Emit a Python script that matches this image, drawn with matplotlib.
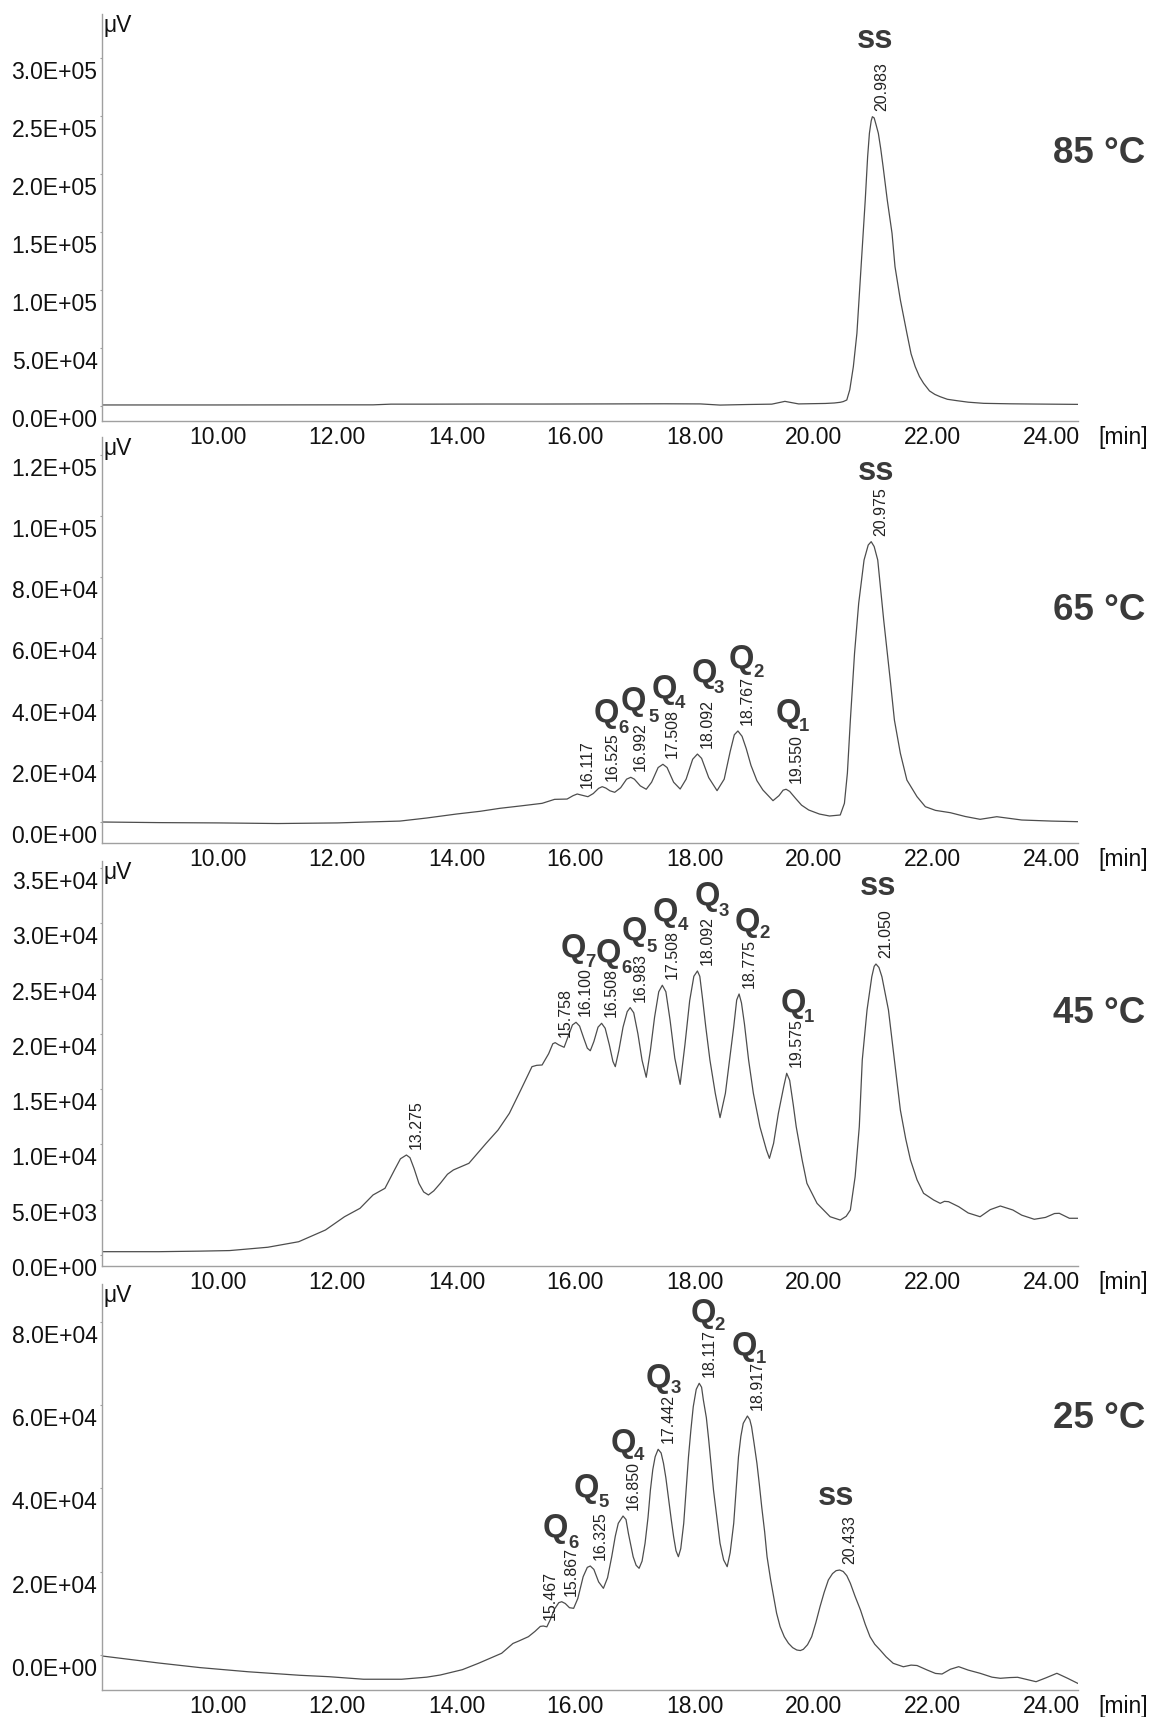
import matplotlib
matplotlib.use("Agg")
import matplotlib.pyplot as plt
import matplotlib.transforms as mtransforms

plt.rcParams['font.family'] = ['Liberation Sans', 'DejaVu Sans']

# ---------------- data (retention time [min], signal [uV]) ----------------
t85 = [8.04, 9.0, 10.0, 11.0, 12.0, 12.6, 12.9, 13.5, 14.5, 15.5, 16.5, 17.5, 18.1, 18.43,
       18.9, 19.3, 19.52, 19.75, 20.2, 20.35, 20.45, 20.50, 20.56, 20.61, 20.67, 20.73, 20.80,
       20.87, 20.91, 20.94, 20.97, 20.99, 21.02, 21.05, 21.09, 21.13, 21.17, 21.24, 21.32,
       21.37, 21.46, 21.57, 21.64, 21.71, 21.78, 21.85, 21.95, 22.04, 22.13, 22.25, 22.41,
       22.6, 22.86, 23.3, 23.7, 24.45]
v85 = [900, 900, 900, 950, 1000, 1000, 1600, 1600, 1700, 1700, 1800, 1900, 1800, 800,
       1300, 1600, 4000, 1800, 2200, 2600, 3200, 3800, 5200, 14000, 33900, 62700, 120200,
       177700, 215000, 235300, 246000, 249600, 248500, 243000, 235300, 222000, 206500, 177700,
       149000, 120200, 91500, 62700, 45000, 33900, 25500, 19600, 13000, 10000, 8000, 5800,
       4600, 3300, 2300, 1900, 1700, 1400]

t65 = [8.04, 9.0, 10.0, 11.0, 12.0, 12.5, 13.05, 13.5, 14.0, 14.4, 14.73, 15.1, 15.44, 15.65,
       15.86, 15.96, 16.03, 16.10, 16.21, 16.30, 16.39, 16.45, 16.51, 16.58, 16.66, 16.76,
       16.86, 16.93, 16.99, 17.09, 17.19, 17.28, 17.39, 17.47, 17.54, 17.65, 17.76, 17.86,
       17.97, 18.05, 18.12, 18.24, 18.38, 18.50, 18.60, 18.67, 18.73, 18.80, 18.87, 18.95,
       19.05, 19.15, 19.32, 19.42, 19.49, 19.54, 19.60, 19.70, 19.80, 19.92, 20.10, 20.27,
       20.45, 20.52, 20.57, 20.62, 20.69, 20.76, 20.85, 20.92, 20.97, 21.02, 21.08, 21.18,
       21.29, 21.36, 21.46, 21.57, 21.74, 21.88, 22.05, 22.30, 22.55, 22.80, 23.08, 23.50,
       24.0, 24.45]
v65 = [0, -200, -300, -500, -300, 0, 300, 1300, 2600, 3500, 4470, 5300, 6100, 7400,
       7500, 8600, 9150, 8800, 8270, 9300, 11000, 11540, 11100, 10200, 9700, 11200,
       14000, 14600, 14000, 11800, 10700, 13000, 17800, 18850, 17800, 13000, 10780, 14000,
       20500, 22200, 20800, 14500, 10240, 14000, 23000, 28500, 29740, 28000, 24000, 18500,
       13500, 10460, 6970, 8600, 10400, 10700, 10000, 7700, 5500, 3920, 2600, 1960,
       2290, 6100, 16000, 33300, 55100, 71500, 85600, 90500, 91600, 90000, 85600, 66000,
       46400, 33300, 22450, 13700, 8270, 5000, 3800, 3040, 1800, 880, 1730, 650,
       300, 100]

t45 = [8.06, 9.0, 9.7, 10.19, 10.83, 11.35, 11.80, 12.12, 12.38, 12.60, 12.80, 12.96, 13.06,
       13.16, 13.22, 13.29, 13.37, 13.45, 13.53, 13.62, 13.73, 13.85, 13.95, 14.21, 14.50,
       14.70, 14.89, 15.08, 15.27, 15.35, 15.44, 15.55, 15.62, 15.66, 15.72, 15.81, 15.88,
       15.95, 16.01, 16.07, 16.14, 16.20, 16.25, 16.31, 16.38, 16.44, 16.50, 16.57, 16.63,
       16.67, 16.73, 16.80, 16.87, 16.92, 16.98, 17.05, 17.12, 17.19, 17.26, 17.33, 17.40,
       17.46, 17.52, 17.59, 17.67, 17.76, 17.84, 17.92, 17.99, 18.05, 18.09, 18.14, 18.19,
       18.26, 18.35, 18.43, 18.52, 18.59, 18.66, 18.71, 18.75, 18.79, 18.84, 18.91, 18.99,
       19.10, 19.21, 19.26, 19.33, 19.41, 19.50, 19.55, 19.60, 19.66, 19.71, 19.81, 19.89,
       20.06, 20.28, 20.45, 20.55, 20.62, 20.70, 20.77, 20.82, 20.90, 20.98, 21.02, 21.05,
       21.10, 21.15, 21.26, 21.36, 21.46, 21.55, 21.63, 21.74, 21.85, 22.02, 22.13, 22.20,
       22.27, 22.44, 22.60, 22.80, 22.97, 23.14, 23.35, 23.50, 23.71, 23.90, 24.05, 24.13,
       24.30, 24.44]
v45 = [300, 300, 350, 400, 700, 1200, 2260, 3460, 4220, 5430, 6030, 7690, 8700,
       9040, 8800, 7800, 6480, 5700, 5430, 5800, 6480, 7300, 7690, 8290, 10100,
       11300, 12810, 14900, 17030, 17150, 17180, 18200, 19100, 19200, 19000, 18780, 19800,
       20800, 21040, 20700, 19600, 18700, 18470, 19300, 20600, 20950, 20500, 19000, 17500,
       17030, 18500, 20600, 22000, 22370, 21900, 20000, 17600, 16070, 18500, 21500, 23800,
       24390, 23800, 21250, 17800, 15430, 19000, 23000, 25200, 25680, 25200, 23000, 20640,
       17630, 14620, 12420, 14620, 17630, 20640, 23060, 23600, 22800, 20900, 17630, 14620,
       11600, 9490, 8740, 10100, 12810, 15220, 16430, 15800, 13600, 11600, 8590, 6480,
       4670, 3460, 3160, 3500, 4070, 7080, 11600, 17630, 22150, 25160, 26100, 26310,
       26000, 25160, 22150, 17630, 13110, 10500, 8590, 6800, 5580, 4970, 4670, 4850,
       4820, 4370, 3800, 3460, 4100, 4430, 4070, 3600, 3230, 3400, 3750, 3770,
       3320, 3320]

t25 = [8.04, 9.0, 9.69, 10.5, 11.37, 11.86, 12.44, 13.08, 13.5, 13.73, 14.1, 14.37, 14.76,
       14.95, 15.05, 15.21, 15.32, 15.41, 15.46, 15.52, 15.58, 15.65, 15.72, 15.77, 15.83,
       15.90, 15.97, 16.04, 16.13, 16.20, 16.25, 16.31, 16.39, 16.47, 16.54, 16.61, 16.67,
       16.72, 16.80, 16.85, 16.89, 16.97, 17.02, 17.07, 17.12, 17.17, 17.22, 17.26, 17.30,
       17.34, 17.39, 17.44, 17.48, 17.52, 17.56, 17.61, 17.65, 17.69, 17.73, 17.77, 17.82,
       17.86, 17.90, 17.94, 17.98, 18.03, 18.08, 18.12, 18.15, 18.20, 18.24, 18.28, 18.32,
       18.38, 18.43, 18.49, 18.55, 18.60, 18.66, 18.70, 18.74, 18.78, 18.82, 18.89, 18.93,
       18.96, 19.00, 19.05, 19.09, 19.13, 19.18, 19.22, 19.28, 19.33, 19.38, 19.44, 19.51,
       19.58, 19.65, 19.72, 19.78, 19.83, 19.90, 19.97, 20.04, 20.11, 20.18, 20.25, 20.32,
       20.38, 20.44, 20.50, 20.56, 20.62, 20.70, 20.79, 20.87, 20.95, 21.03, 21.12, 21.22,
       21.34, 21.51, 21.64, 21.74, 21.91, 22.05, 22.16, 22.30, 22.44, 22.60, 22.80, 23.00,
       23.14, 23.30, 23.43, 23.60, 23.74, 23.90, 24.09, 24.27, 24.44]
v25 = [-300, -2000, -3100, -4100, -4950, -5290, -5900, -5900, -5400, -4880, -3600, -2070, 340,
       2700, 3300, 4330, 5600, 6800, 6900, 6700, 8500, 11000, 12500, 12740, 12300,
       11300, 11150, 13500, 18750, 21000, 21320, 20500, 17500, 15960, 18500, 23560, 28500,
       31590, 33340, 32500, 29180, 23560, 21500, 20770, 22500, 26780, 33000, 39590, 44500,
       47600, 49380, 48500, 46010, 42500, 37990, 32500, 28370, 25000, 23560, 25500, 31590,
       39500, 47600, 54000, 59620, 63800, 65250, 64300, 61230, 57000, 51610, 45500, 39590,
       32500, 26780, 22800, 21160, 24500, 31590, 39500, 47600, 52500, 55630, 57380, 56500,
       54810, 51000, 46010, 41000, 35580, 29500, 23560, 18000, 13940, 10000, 6730, 4300,
       2740, 1700, 1130, 1000, 1300, 2400, 4330, 7700, 11540, 15000, 17960, 19500,
       20200, 20360, 20000, 19000, 17160, 14000, 10750, 7300, 4330, 2500, 1130, -500,
       -2070, -2900, -2500, -2600, -3680, -4500, -4640, -3500, -2880, -3700, -4470, -5400,
       -5670, -5500, -5430, -6000, -6490, -5600, -4470, -5670, -6880]

# retention-time labels (text, apex time, apex signal)
rt85_text = ['20.983']
rt85_t = [20.99]
rt85_v = [249600]
rt65_text = ['16.117', '16.525', '16.992', '17.508', '18.092', '18.767', '19.550', '20.975']
rt65_t = [16.03, 16.45, 16.93, 17.47, 18.05, 18.73, 19.54, 20.97]
rt65_v = [9150, 11540, 14600, 18850, 22200, 29740, 10700, 91600]
rt45_text = ['13.275', '15.758', '16.100', '16.508', '16.983', '17.508', '18.092', '18.775',
             '19.575', '21.050']
rt45_t = [13.16, 15.66, 16.01, 16.44, 16.92, 17.46, 18.05, 18.75, 19.55, 21.05]
rt45_v = [9040, 19200, 21040, 20950, 22370, 24390, 25680, 23600, 16430, 26310]
rt25_text = ['15.467', '15.867', '16.325', '16.850', '17.442', '18.117', '18.917', '20.433']
rt25_t = [15.41, 15.77, 16.25, 16.80, 17.39, 18.08, 18.89, 20.44]
rt25_v = [6800, 12740, 21320, 33340, 49380, 65250, 57380, 20360]

# peak names Q_n (subscript, Q centre t, Q centre v, subscript centre t, subscript centre v)
q65_n = ['6', '5', '4', '3', '2', '1']
q65_qt = [16.52, 16.98, 17.50, 18.17, 18.78, 19.57]
q65_qv = [36600, 40430, 44220, 49670, 54020, 36600]
q65_st = [16.80, 17.31, 17.75, 18.41, 19.07, 19.84]
q65_sv = [31370, 34970, 39310, 44220, 49450, 32030]

q45_n = ['7', '6', '5', '4', '3', '2', '1']
q45_qt = [15.97, 16.55, 16.99, 17.51, 18.21, 18.88, 19.66]
q45_qv = [28030, 27580, 29540, 31260, 32710, 30350, 23060]
q45_st = [16.25, 16.86, 17.28, 17.81, 18.49, 19.17, 19.93]
q45_sv = [26670, 26130, 28030, 29990, 31260, 29230, 21700]

q25_n = ['6', '5', '4', '3', '2', '1']
q25_qt = [15.66, 16.19, 16.80, 17.39, 18.15, 18.84]
q25_qv = [31180, 40800, 51610, 67240, 82870, 74860]
q25_st = [15.97, 16.47, 17.06, 17.68, 18.43, 19.12]
q25_sv = [27170, 37190, 48420, 64430, 79670, 71640]

ss_t = [21.04, 21.05, 21.08, 20.38]
ss_v = [315800, 114480, 33300, 37980]

temps = ['85 °C', '65 °C', '45 °C', '25 °C']
x_ticks = [10, 12, 14, 16, 18, 20, 22, 24]
y_ticks85 = [0, 50000, 100000, 150000, 200000, 250000, 300000]
y_ticks65 = [0, 20000, 40000, 60000, 80000, 100000, 120000]
y_ticks45 = [0, 5000, 10000, 15000, 20000, 25000, 30000, 35000]
y_ticks25 = [0, 20000, 40000, 60000, 80000]

# ---------------- layout ----------------
W, H = 1154, 1717
fig = plt.figure(figsize=(W / 100, H / 100), dpi=100)
fig.patch.set_facecolor('white')

LEFT, RIGHT = 101.7, 1078.3
boxes = [(14, 420.7), (437, 843.3), (861, 1266), (1284, 1689.7)]
ylims = [(-12680, 338200), (-6960, 125800), (-995, 35625), (-8414, 89120)]
temp_base = [0.6329, 0.5496, 0.5993, 0.6443]

series = [(t85, v85), (t65, v65), (t45, v45), (t25, v25)]
yticks_all = [y_ticks85, y_ticks65, y_ticks45, y_ticks25]
rts = [(rt85_text, rt85_t, rt85_v), (rt65_text, rt65_t, rt65_v),
       (rt45_text, rt45_t, rt45_v), (rt25_text, rt25_t, rt25_v)]
qs = [None, (q65_n, q65_qt, q65_qv, q65_st, q65_sv), (q45_n, q45_qt, q45_qv, q45_st, q45_sv),
      (q25_n, q25_qt, q25_qv, q25_st, q25_sv)]

LINE_C = '#4d4d4d'
AXIS_C = '#a0a0a0'
LAB_C = '#3a3a3a'
TICK_FS = 16.5

for i in range(4):
    top, bot = boxes[i]
    ax = fig.add_axes([LEFT / W, 1 - bot / H, (RIGHT - LEFT) / W, (bot - top) / H])
    ax.set_facecolor('none')
    t, v = series[i]
    ax.plot(t, v, color=LINE_C, lw=0.9, solid_joinstyle='round')
    ax.set_xlim(8.04, 24.45)
    ax.set_ylim(*ylims[i])
    for s in ('top', 'right'):
        ax.spines[s].set_visible(False)
    for s in ('left', 'bottom'):
        ax.spines[s].set_color(AXIS_C)
        ax.spines[s].set_linewidth(1.0)
    ax.set_xticks(x_ticks)
    ax.set_xticklabels(['%.2f' % x for x in x_ticks])
    ax.set_yticks(yticks_all[i])
    ax.set_yticklabels(['%.1E' % y for y in yticks_all[i]])
    ax.tick_params(axis='x', length=0, pad=3.5, labelsize=TICK_FS, labelcolor='#111111')
    ax.tick_params(axis='y', length=1.6, width=0.8, color=AXIS_C, pad=1.4,
                   labelsize=TICK_FS, labelcolor='#111111')
    off = mtransforms.ScaledTranslation(0, -3 / 100, fig.dpi_scale_trans)
    for lab in ax.get_yticklabels():
        lab.set_verticalalignment('top')
        lab.set_transform(lab.get_transform() + off)

    ax.text(0.002, 1.0, 'μV', transform=ax.transAxes, ha='left', va='top',
            fontsize=TICK_FS, color='#111111')
    ax.annotate('[min]', xy=(1, 0), xycoords='axes fraction', xytext=(14.2, -3.5),
                textcoords='offset points', ha='left', va='top', fontsize=TICK_FS,
                color='#111111', annotation_clip=False)

    # temperature label
    ax.text((1145.5 - LEFT) / (RIGHT - LEFT), temp_base[i], temps[i], transform=ax.transAxes,
            ha='right', va='baseline', fontsize=26.5, fontweight='bold', color=LAB_C)

    # retention time labels
    txts, rtt, rtv = rts[i]
    for s, x, y in zip(txts, rtt, rtv):
        ax.annotate(s, xy=(x, y), xytext=(7.0, 4.3), textcoords='offset points',
                    rotation=90, ha='center', va='bottom', fontsize=11.5, color='#222222',
                    annotation_clip=False)

    # ss label
    ax.annotate('ss', xy=(ss_t[i], ss_v[i]), xytext=(0, -6.1), textcoords='offset points',
                ha='center', va='baseline', fontsize=23.5, fontweight='bold', color=LAB_C,
                annotation_clip=False)

    # Q labels
    if qs[i] is not None:
        n, qt, qv, st, sv = qs[i]
        for k in range(len(n)):
            ax.annotate('Q', xy=(qt[k], qv[k]), xytext=(0, -8.4), textcoords='offset points',
                        ha='center', va='baseline', fontsize=23.5, fontweight='bold',
                        color=LAB_C, annotation_clip=False)
            ax.annotate(n[k], xy=(st[k], sv[k]), xytext=(0, -4.8), textcoords='offset points',
                        ha='center', va='baseline', fontsize=13.4, fontweight='bold',
                        color=LAB_C, annotation_clip=False)

fig.savefig('out.png', dpi=100, facecolor='white')
